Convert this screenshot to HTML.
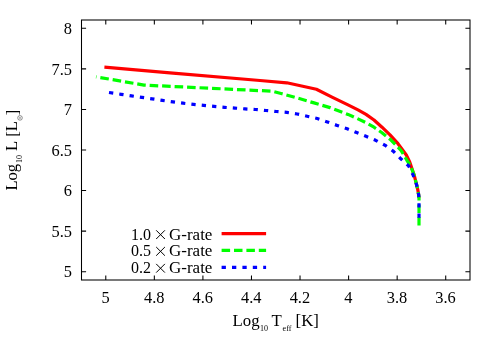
<!DOCTYPE html>
<html><head><meta charset="utf-8">
<style>
html,body{margin:0;padding:0;background:#fff;}
body{width:500px;height:350px;overflow:hidden;}
svg{display:block;will-change:transform;}
text{font-family:"Liberation Serif",serif;fill:#000;}
</style></head><body>
<svg width="500" height="350" viewBox="0 0 500 350">
<rect width="500" height="350" fill="#fff"/>
<!-- curves -->
<g fill="none" stroke-width="3.2" stroke-linejoin="round">
<path stroke="#ff0000" d="M104.4,67.2 L170,72.9 L260,80.5 L286.8,82.8 L316.4,89.2 L332,97.1 L348,104.9 L358,109.9 L366,114.4 L374,120 L382,127.2 L390,134.9 L398,143.7 L402.8,150.2 L406.3,155 L409.7,161.9 L412,168.7 L414.3,175.6 L416,182.4 L417.7,189.3 L418.6,194.4 L419,198"/>
<path stroke="#00ff00" stroke-dasharray="8.59 3.9" stroke-dashoffset="8.09" d="M96,76.8 L144,85.1 L272,91.2 L282,93.7 L298,98.2 L314,102.9 L330,107.6 L348,114.4 L358,118.9 L366,122.7 L374,127.2 L382,132.8 L390,139.2 L396.4,145.6 L401,150.3 L404,155.2 L407,160.5 L409.7,164.5 L412,169.5 L414.3,175.6 L416,182.4 L417.7,189.3 L418.6,194.4 L419,198 L419,225.7"/>
<path stroke="#0000ff" stroke-dasharray="4.3 6.1" d="M109,92.5 L121.1,94.3 L131.5,95.9 L141.9,97.4 L152,98.8 L162.4,100.4 L173,101.9 L183,103.2 L193.4,104.4 L203.6,105.4 L214,106.4 L224.4,107.3 L234.8,108.1 L245,108.9 L255.6,109.5 L266,110.5 L276.4,111.5 L286.8,112.4 L297.2,114 L307.1,116.2 L317.2,118.5 L327.4,121.9 L337.1,125.4 L347.2,128.8 L356.6,132.6 L366,136.3 L375.6,140.3 L385.3,145.4 L393.5,151.4 L400.8,158.8 L408.6,165.9 L413.1,175 L416.6,184.7 L418.6,194.4 L419,198 L419,220"/>
</g>
<!-- legend lines -->
<g fill="none" stroke-width="3.2">
<path stroke="#ff0000" d="M221.6,233.6 H266.1"/>
<path stroke="#00ff00" stroke-dasharray="8.5 3.9" d="M221.6,250.4 H266.1"/>
<path stroke="#0000ff" stroke-dasharray="4.3 6.1" d="M221.6,267.4 H266.1"/>
</g>
<!-- frame -->
<g fill="none" stroke="#000" stroke-width="1.05">
<rect x="81.5" y="20" width="388.5" height="260"/>
<path d="M105.78,280v-4.6M105.78,20v4.6M154.34,280v-4.6M154.34,20v4.6M202.91,280v-4.6M202.91,20v4.6M251.47,280v-4.6M251.47,20v4.6M300.03,280v-4.6M300.03,20v4.6M348.6,280v-4.6M348.6,20v4.6M397.16,280v-4.6M397.16,20v4.6M445.72,280v-4.6M445.72,20v4.6M81.5,28.3h4.6M470,28.3h-4.6M81.5,68.87h4.6M470,68.87h-4.6M81.5,109.43h4.6M470,109.43h-4.6M81.5,150.0h4.6M470,150.0h-4.6M81.5,190.57h4.6M470,190.57h-4.6M81.5,231.14h4.6M470,231.14h-4.6M81.5,271.7h4.6M470,271.7h-4.6"/>
</g>
<g font-size="16.4" text-anchor="end">
<text x="72" y="34.05">8</text>
<text x="72" y="74.62">7.5</text>
<text x="72" y="115.18">7</text>
<text x="72" y="155.75">6.5</text>
<text x="72" y="196.32">6</text>
<text x="72" y="236.89">5.5</text>
<text x="72" y="277.45">5</text>
</g>
<g font-size="16.4" text-anchor="middle">
<text x="105.65" y="302.6">5</text>
<text x="154.21" y="302.6">4.8</text>
<text x="202.78" y="302.6">4.6</text>
<text x="251.34" y="302.6">4.4</text>
<text x="299.9" y="302.6">4.2</text>
<text x="348.47" y="302.6">4</text>
<text x="397.03" y="302.6">3.8</text>
<text x="445.59" y="302.6">3.6</text>
</g>
<!-- legend text -->
<g font-size="16">
<text x="131" y="239.5">1.0</text><text x="169" y="239.5" font-size="17">G-rate</text>
<text x="131" y="256.2">0.5</text><text x="169" y="256.2" font-size="17">G-rate</text>
<text x="131" y="273.1">0.2</text><text x="169" y="273.1" font-size="17">G-rate</text>
</g>
<g fill="none" stroke="#000" stroke-width="1">
<path d="M156.2,230.3l8.7,8.7m0,-8.7l-8.7,8.7"/>
<path d="M156.2,247l8.7,8.7m0,-8.7l-8.7,8.7"/>
<path d="M156.2,263.9l8.7,8.7m0,-8.7l-8.7,8.7"/>
</g>
<text font-size="16.8" y="326"><tspan x="232.6">Log</tspan><tspan x="260" y="330.5" font-size="8">10</tspan><tspan x="271.5" y="326">T</tspan><tspan x="282.6" y="330.5" font-size="8">eff</tspan><tspan x="295.6" y="326">[K]</tspan></text>
<g transform="translate(17.1,190.6) rotate(-90)"><text font-size="16.6" y="0"><tspan x="0">Log</tspan><tspan x="27.6" y="5.3" font-size="8">10</tspan><tspan x="39.7" y="0">L</tspan><tspan x="53.8" y="0.8">[</tspan><tspan y="0">L</tspan><tspan x="75.4" y="0.8">]</tspan></text><circle cx="72.7" cy="2.9" r="2.3" fill="none" stroke="#333" stroke-width="0.55"/><circle cx="72.7" cy="2.9" r="0.7" fill="#333"/></g>
</svg>
</body></html>
